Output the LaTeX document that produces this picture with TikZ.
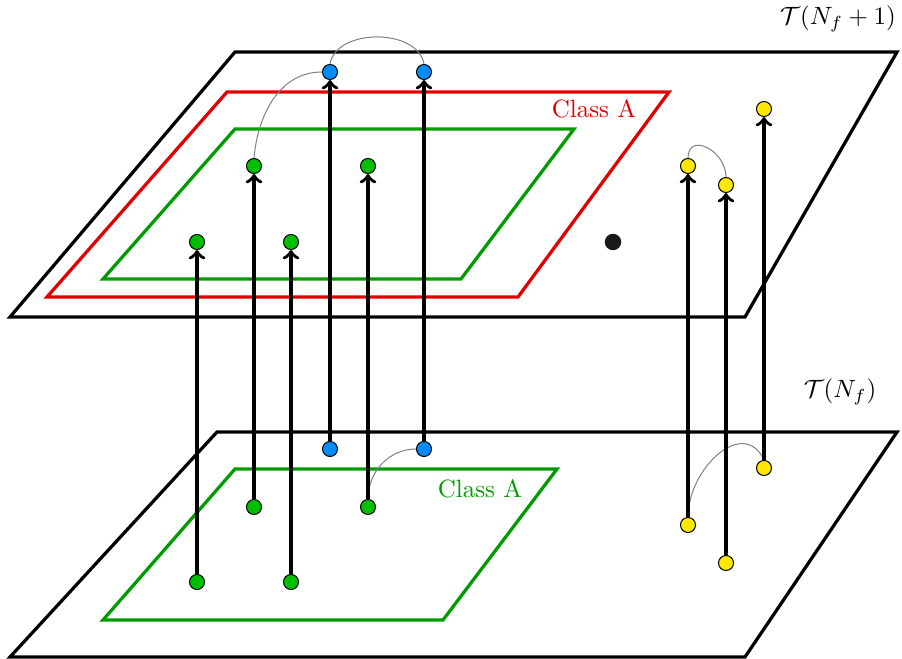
\documentclass[tikz,border=0pt]{standalone}
\usetikzlibrary{backgrounds}
\definecolor{lineGreen}{RGB}{0,155,0}
\definecolor{lineRed}{RGB}{225,0,0}
\definecolor{fillGreen}{RGB}{0,190,0}
\definecolor{fillBlue}{RGB}{0,140,255}
\definecolor{fillYellow}{RGB}{255,232,0}
\begin{document}
\begin{tikzpicture}[
        x=0.4pt, y=-0.4pt,
        plane/.style={draw, line width=1.3pt, line join=miter},
        region/.style={draw, line width=1.3pt, line join=miter},
        dot/.style={circle, draw, line width=0.4pt, inner sep=0pt, minimum size=6pt},
        lift/.style={->, line width=1.4pt},
        link/.style={gray, line width=0.4pt}
    ]
        \useasboundingbox (0,0) rectangle (902,659);

        \begin{scope}[on background layer]
        % The two planes
        \draw[plane] (10,317) -- (745,317) -- (897,52) -- (235,52) -- cycle;
        \draw[plane] (10,657) -- (745,657) -- (897,432) -- (217,432) -- cycle;

        % Class A regions
        \draw[region, lineRed] (47,297) -- (518,297) -- (669,92) -- (227,92) -- cycle;
        \draw[region, lineGreen] (103,279) -- (461,279) -- (574,129) -- (235,129) -- cycle;
        \draw[region, lineGreen] (103,620) -- (443,620) -- (557,469) -- (235,469) -- cycle;
        \end{scope}

        \node (top) at (838,19) {$\mathcal{T}(N_f+1)$};
        \node (bottom) at (840,392) {$\mathcal{T}(N_f)$};
        \node[lineRed] (classtop) at (594,109) {Class A};
        \node[lineGreen] (classbottom) at (480,489) {Class A};

        % Points on the lower plane
        \node[dot, fill=fillGreen] (g1) at (197,582) {};
        \node[dot, fill=fillGreen] (g2) at (291,582) {};
        \node[dot, fill=fillGreen] (g3) at (254,507) {};
        \node[dot, fill=fillGreen] (g4) at (368,507) {};
        \node[dot, fill=fillBlue] (b1) at (330,449) {};
        \node[dot, fill=fillBlue] (b2) at (424,449) {};
        \node[dot, fill=fillYellow] (y1) at (688,525) {};
        \node[dot, fill=fillYellow] (y2) at (726,563) {};
        \node[dot, fill=fillYellow] (y3) at (764,468) {};

        % Points on the upper plane
        \node[dot, fill=fillGreen] (G1) at (197,242) {};
        \node[dot, fill=fillGreen] (G2) at (291,242) {};
        \node[dot, fill=fillGreen] (G3) at (254,166) {};
        \node[dot, fill=fillGreen] (G4) at (368,166) {};
        \node[dot, fill=fillBlue] (B1) at (330,72) {};
        \node[dot, fill=fillBlue] (B2) at (424,72) {};
        \node[dot, fill=fillYellow] (Y1) at (688,166) {};
        \node[dot, fill=fillYellow] (Y2) at (726,185) {};
        \node[dot, fill=fillYellow] (Y3) at (764,109) {};
        \node[circle, fill=black!90, inner sep=0pt, minimum size=6.6pt] (extra) at (613,242) {};

        \begin{scope}[on background layer]
        % Links between points
        \draw[link] (G3.north) to[out=85, in=180] (B1.west);
        \draw[link] (B1.north) to[out=80, in=100] (B2.north);
        \draw[link] (Y1.north) to[out=90, in=90, looseness=1.6] (Y2.north);
        \draw[link] (g4.north) to[out=90, in=180] (b2.west);
        \draw[link] (y1.north) to[out=90, in=115, looseness=1.3] (y3.north);

        % Lifts from the lower plane to the upper one
        \draw[lift] (g1) -- (G1);
        \draw[lift] (g2) -- (G2);
        \draw[lift] (g3) -- (G3);
        \draw[lift] (g4) -- (G4);
        \draw[lift] (b1) -- (B1);
        \draw[lift] (b2) -- (B2);
        \draw[lift] (y1) -- (Y1);
        \draw[lift] (y2) -- (Y2);
        \draw[lift] (y3) -- (Y3);
        \end{scope}
    \end{tikzpicture}
\end{document}
